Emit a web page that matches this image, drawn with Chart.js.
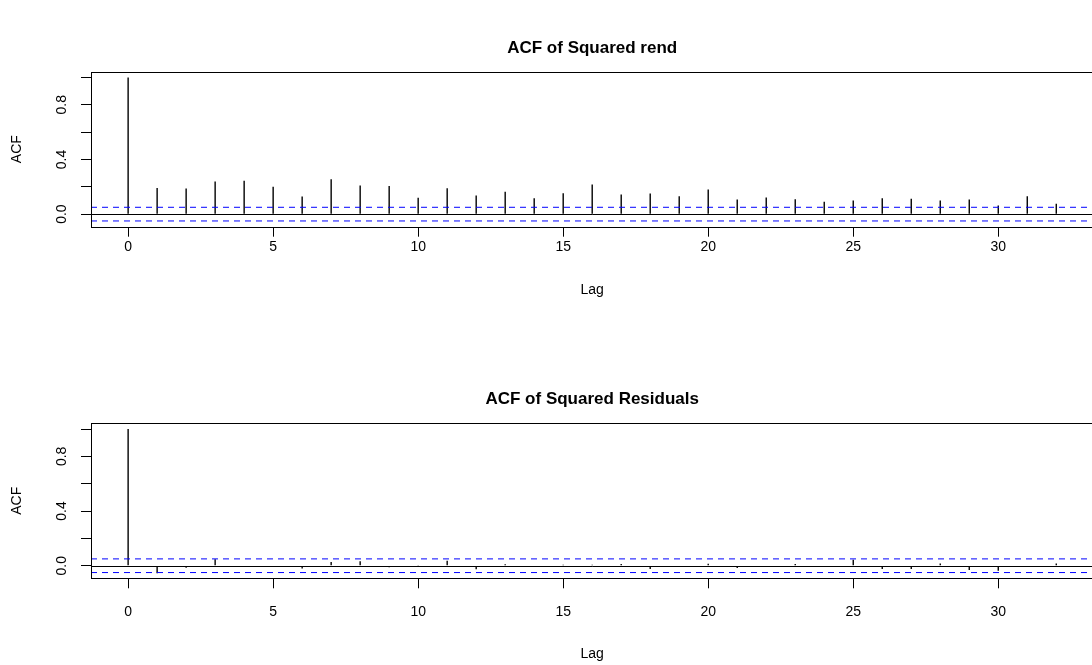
<!DOCTYPE html>
<html>
<head>
<meta charset="utf-8">
<title>ACF of squared series</title>
<script src="https://cdn.jsdelivr.net/npm/chart.js@4/dist/chart.umd.min.js"></script>
<style>
  html, body { margin: 0; padding: 0; background: #ffffff; overflow: hidden; width: 1092px; height: 665px; }
  #wrap { position: relative; width: 1092px; height: 665px; overflow: hidden; }
  canvas { position: absolute; left: 0; }
  #acfTop { top: 0; }
  #acfBottom { top: 333px; }
</style>
</head>
<body>
<div id="wrap">
  <canvas id="acfTop" width="1100" height="333"></canvas>
  <canvas id="acfBottom" width="1100" height="332"></canvas>
</div>
<script>
// Lags shown on both panels
const LAGS = [0, 1, 2, 3, 4, 5, 6, 7, 8, 9, 10, 11, 12, 13, 14, 15, 16,
              17, 18, 19, 20, 21, 22, 23, 24, 25, 26, 27, 28, 29, 30, 31, 32];

// Autocorrelations of the squared returns
const ACF_SQ_REND = [1.000, 0.192, 0.187, 0.238, 0.245, 0.201, 0.129, 0.255, 0.209,
                     0.206, 0.119, 0.189, 0.136, 0.163, 0.116, 0.153, 0.216,
                     0.143, 0.150, 0.131, 0.180, 0.107, 0.121, 0.109, 0.090,
                     0.100, 0.116, 0.112, 0.100, 0.107, 0.063, 0.131, 0.076];

// Autocorrelations of the squared standardized residuals
const ACF_SQ_RESID = [1.000, -0.055, -0.015, 0.048, -0.010, -0.008, -0.020, 0.028, 0.032,
                      -0.012, 0.005, 0.037, -0.026, 0.010, -0.008, 0.008, 0.007,
                      0.012, -0.024, -0.006, 0.015, -0.016, -0.005, 0.012, -0.008,
                      0.043, -0.024, -0.024, 0.017, -0.032, -0.036, -0.008, 0.017];

// White-noise confidence bound
const CI_BOUND = 0.05;

// Axis ranges and ticks
const X_RANGE = [-1.28, 33.28];
const Y_RANGE = [-0.092, 1.042];
const X_TICKS = [0, 5, 10, 15, 20, 25, 30];
const Y_TICKS = [0.0, 0.2, 0.4, 0.6, 0.8, 1.0];
const Y_TICK_LABELS = ['0.0', '0.4', '0.8'];

const FONT = "'Liberation Sans', Arial, Helvetica, sans-serif";
const AXIS_FONT_SIZE = 14;
const TITLE_FONT_SIZE = 17;

// Frame, zero line and dashed confidence bounds drawn over the spikes
const acfFrame = {
  id: 'acfFrame',
  afterDatasetsDraw(chart) {
    const { ctx, chartArea: a, scales: { y } } = chart;
    const snap = v => Math.round(v) + 0.5;
    ctx.save();
    ctx.lineWidth = 1;

    ctx.strokeStyle = '#000000';
    const y0 = snap(y.getPixelForValue(0));
    ctx.beginPath();
    ctx.moveTo(a.left, y0);
    ctx.lineTo(a.right, y0);
    ctx.stroke();

    ctx.strokeStyle = '#0000ff';
    ctx.setLineDash([6, 5]);
    for (const v of [CI_BOUND, -CI_BOUND]) {
      const py = y.getPixelForValue(v);
      ctx.beginPath();
      ctx.moveTo(a.left, py);
      ctx.lineTo(a.right, py);
      ctx.stroke();
    }
    ctx.setLineDash([]);

    ctx.strokeStyle = '#000000';
    ctx.strokeRect(snap(a.left), snap(a.top),
                   Math.round(a.right - a.left), Math.round(a.bottom - a.top));
    ctx.restore();
  }
};

function makeAcfChart(canvasId, titleText, values, g) {
  const tickGrid = {
    drawOnChartArea: false,
    drawTicks: true,
    tickLength: 10,
    color: '#000000',
    lineWidth: 1,
    offset: false
  };
  return new Chart(document.getElementById(canvasId), {
    type: 'bar',
    data: {
      datasets: [{
        data: LAGS.map((lag, i) => ({ x: lag, y: values[i] })),
        backgroundColor: '#000000',
        borderWidth: 0,
        barThickness: 1.4,
        inflateAmount: 0,
        grouped: false
      }]
    },
    options: {
      responsive: false,
      animation: false,
      devicePixelRatio: 1,
      layout: { padding: { left: 0, right: 6.6, top: 0, bottom: 0 } },
      plugins: {
        legend: { display: false },
        tooltip: { enabled: false },
        title: {
          display: true,
          text: titleText,
          fullSize: false,
          color: '#000000',
          font: { family: FONT, size: TITLE_FONT_SIZE, weight: 'bold', lineHeight: 1.2 },
          padding: { top: g.titlePadTop, bottom: g.titlePadBottom }
        }
      },
      scales: {
        x: {
          type: 'linear',
          min: X_RANGE[0],
          max: X_RANGE[1],
          offset: false,
          afterBuildTicks: s => { s.ticks = X_TICKS.map(v => ({ value: v })); },
          afterFit: s => { s.height = g.xAxisHeight; },
          grid: tickGrid,
          border: { display: false },
          ticks: {
            color: '#000000',
            font: { family: FONT, size: AXIS_FONT_SIZE, lineHeight: 1.2 },
            padding: g.xTickPad,
            autoSkip: false,
            minRotation: 0,
            maxRotation: 0,
            callback: v => String(v)
          },
          title: {
            display: true,
            text: 'Lag',
            color: '#000000',
            font: { family: FONT, size: AXIS_FONT_SIZE, lineHeight: 1.2 },
            padding: { top: 0, bottom: g.xTitlePad }
          }
        },
        y: {
          type: 'linear',
          min: Y_RANGE[0],
          max: Y_RANGE[1],
          afterBuildTicks: s => { s.ticks = Y_TICKS.map(v => ({ value: v })); },
          afterFit: s => { s.width = 91; },
          grid: tickGrid,
          border: { display: false },
          ticks: {
            color: '#000000',
            font: { family: FONT, size: AXIS_FONT_SIZE, lineHeight: 1.2 },
            padding: g.yTickPad,
            minRotation: 90,
            maxRotation: 90,
            crossAlign: 'center',
            callback: v => {
              const t = Number(v).toFixed(1);
              return Y_TICK_LABELS.includes(t) ? t : '';
            }
          },
          title: {
            display: true,
            text: 'ACF',
            color: '#000000',
            font: { family: FONT, size: AXIS_FONT_SIZE, lineHeight: 1.2 },
            padding: { top: g.yTitlePad, bottom: 0 }
          }
        }
      }
    },
    plugins: [acfFrame]
  });
}

makeAcfChart('acfTop', 'ACF of Squared rend', ACF_SQ_REND, {
  titlePadTop: 37.8, titlePadBottom: 13.5,
  xAxisHeight: 106.3, xTickPad: 2.4, xTitlePad: 34.6,
  yTickPad: 9.3, yTitlePad: 8.6
});

makeAcfChart('acfBottom', 'ACF of Squared Residuals', ACF_SQ_RESID, {
  titlePadTop: 55.8, titlePadBottom: 14.1,
  xAxisHeight: 86.7, xTickPad: 15.8, xTitlePad: 2.6,
  yTickPad: 9.3, yTitlePad: 8.6
});
</script>
</body>
</html>
